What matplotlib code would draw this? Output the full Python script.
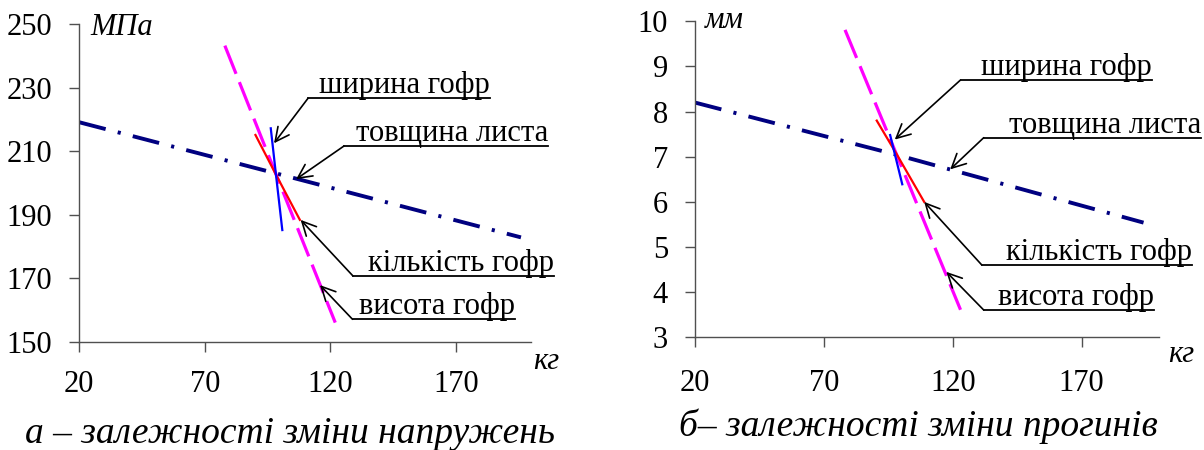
import matplotlib
matplotlib.use('Agg')
import matplotlib.pyplot as plt
from matplotlib.lines import Line2D

plt.rcParams['font.family'] = ['Liberation Serif', 'DejaVu Serif']

W, H = 1204, 450

# --- data ---
# panel a: stress, MPa
a_thick_x = [20, 98, 196]
a_thick_y = [219.1, 203.1, 182.9]
a_height_x = [78, 98, 122]
a_height_y = [243.2, 203.5, 156.1]
a_count_x = [90.2, 98, 107.9]
a_count_y = [215.1, 203.2, 188.4]
a_width_x = [96.3, 98.3, 100.9]
a_width_y = [217.2, 203.1, 185.2]

# panel b: deflection, mm
b_thick_x = [20, 98.4, 194]
b_thick_y = [8.2, 7.04, 5.54]
b_height_x = [78.2, 98.4, 123]
b_height_y = [9.81, 7.02, 3.61]
b_count_x = [90.5, 98.4, 108.9]
b_count_y = [7.80, 7.04, 6.00]
b_width_x = [95.7, 97.6, 100.4]
b_width_y = [7.48, 7.04, 6.39]

xticks = [20, 70, 120, 170]
a_yticks = [150, 170, 190, 210, 230, 250]
b_yticks = [3, 4, 5, 6, 7, 8, 9, 10]

labels = ['ширина гофр', 'товщина листа', 'кількість гофр', 'висота гофр']
a_tips = [(97.6, 212.5), (106.4, 201.2), (108.2, 188.4), (115.9, 167.9)]
b_tips = [(97.5, 7.38), (119, 6.72), (108.9, 6.0), (117.5, 4.45)]
# leader layout in pixels from top-left: elbow x, underline y, underline right end
a_leaders = [(308, 98.3, 490), (344, 146, 548), (353, 276, 554), (352.5, 319.3, 515)]
b_leaders = [(960.5, 80, 1152), (983.7, 137.7, 1201), (981.8, 265, 1192), (983.7, 310, 1153.5)]

fig = plt.figure(figsize=(W / 100, H / 100), dpi=100)


def px(x, y):
    return x / W, 1 - y / H


def make_axes(rect, ylim, yticks, pad_x):
    ax = fig.add_axes(rect)
    ax.set_xlim(20, 200)
    ax.set_ylim(*ylim)
    ax.set_xticks(xticks)
    ax.set_yticks(yticks)
    for s in ['top', 'right']:
        ax.spines[s].set_visible(False)
    for s in ['left', 'bottom']:
        ax.spines[s].set_color('#505050')
        ax.spines[s].set_linewidth(1.0)
    ax.tick_params(direction='out', length=7, width=1.0, color='#505050',
                   labelsize=22)
    ax.tick_params(axis='y', pad=12.5)
    ax.tick_params(axis='x', pad=pad_x)
    return ax


def draw_lines(ax, tx, ty, hx, hy, cx, cy, wx, wy):
    ax.plot(tx, ty, color='#000080', lw=2.8, linestyle=(0, (7, 3.2, 0.8, 3.2)))
    ax.plot(hx, hy, color='#FF00FF', lw=2.3, linestyle=(0, (9.5, 2.8)))
    ax.plot(cx, cy, color='#FF0000', lw=1.6)
    ax.plot(wx, wy, color='#0000FF', lw=1.6)


def draw_leaders(ax, tips, leaders):
    for lab, tip, (ex, uy, rx) in zip(labels, tips, leaders):
        ax.annotate('', xy=tip, xycoords='data', xytext=(ex, H - uy),
                    textcoords='figure pixels',
                    arrowprops=dict(arrowstyle='->,head_length=1.0,head_width=0.5',
                                    mutation_scale=10, color='black', lw=1.2,
                                    shrinkA=0, shrinkB=0))
        x0, y0 = px(ex, uy)
        x1, _ = px(rx, uy)
        fig.add_artist(Line2D([x0, x1], [y0, y0], transform=fig.transFigure,
                              color='black', lw=1.3))
        tx, ty = px(rx, uy - 5)
        fig.text(tx, ty, lab, ha='right', va='baseline', fontsize=22)


ax1 = make_axes([79.3 / W, 1 - 342 / H, (531 - 79.3) / W, (342 - 24) / H],
                (150, 250), a_yticks, 13)
draw_lines(ax1, a_thick_x, a_thick_y, a_height_x, a_height_y,
           a_count_x, a_count_y, a_width_x, a_width_y)
draw_leaders(ax1, a_tips, a_leaders)

ax2 = make_axes([695 / W, 1 - 337.3 / H, (1159 - 695) / W, (337.3 - 21.3) / H],
                (3, 10), b_yticks, 16)
draw_lines(ax2, b_thick_x, b_thick_y, b_height_x, b_height_y,
           b_count_x, b_count_y, b_width_x, b_width_y)
draw_leaders(ax2, b_tips, b_leaders)

# units
fig.text(*px(90, 35), 'МПа', fontsize=22, style='italic', va='baseline')
fig.text(*px(533, 369), 'кг', fontsize=22, style='italic', va='baseline')
fig.text(*px(705, 28.3), 'мм', fontsize=22, style='italic', va='baseline')
fig.text(*px(1168, 361.7), 'кг', fontsize=22, style='italic', va='baseline')

# captions
fig.text(*px(25, 443), 'а – залежності зміни напружень', fontsize=27,
         style='italic', va='baseline')
fig.text(*px(679, 436), 'б– залежності зміни прогинів', fontsize=27,
         style='italic', va='baseline')

fig.savefig('out.png', dpi=100)
